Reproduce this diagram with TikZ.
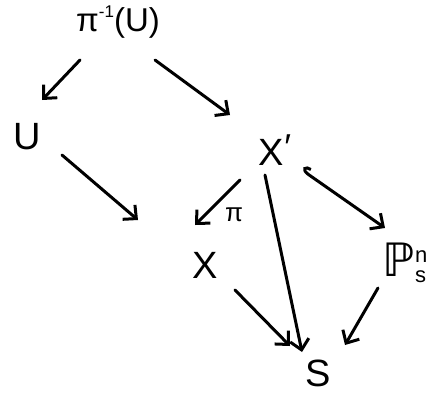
\documentclass[tikz,border=0pt]{standalone}
\usepackage{fontspec}
\setmainfont{Liberation Sans}
\newfontfamily\dvs{DejaVu Sans}
\usetikzlibrary{arrows.meta}
\begin{document}
\begin{tikzpicture}[x=1pt,y=-1pt,
  lbl/.style={inner sep=2pt,font=\fontsize{38}{42}\selectfont},
  arr/.style={line width=3pt,line cap=round,-{Straight Barb[length=10pt,width=19pt,line width=3pt]}},
  hookarr/.style={arr,{Hooks[right,length=7pt,width=14pt,line width=3pt]}-{Straight Barb[length=10pt,width=19pt,line width=3pt]}}]
\useasboundingbox (0,0) rectangle (435,394);
\node[lbl,font=\fontsize{33}{36}\selectfont] (pu) at (118,22) {π\raisebox{0.45em}{\fontsize{17}{17}\selectfont -1}(U)};
\node[lbl] (u) at (27,137) {U};
\node[lbl] (xp) at (275,150) {X\raisebox{0.15em}{\fontsize{36}{36}\selectfont ′}};
\node[lbl] (x) at (205,265) {X};
\node[lbl] (p) at (405,265) {{\dvs\fontsize{46}{46}\selectfont ℙ}\raisebox{0.05em}{\fontsize{22}{17}\selectfont\begin{tabular}[c]{@{}l@{}}n\\[3pt]s\end{tabular}}};
\node[lbl] (s) at (318,373) {S};
\coordinate (a1) at (80,60); \coordinate (a2) at (42,100);
\coordinate (b1) at (155,60); \coordinate (b2) at (230,115);
\coordinate (c1) at (62,155); \coordinate (c2) at (138,220);
\coordinate (d1) at (240,180); \coordinate (d2) at (195,225);
\coordinate (e1) at (265,175); \coordinate (e2) at (302,352);
\coordinate (f1) at (302,170); \coordinate (f2) at (385,228);
\coordinate (g1) at (235,290); \coordinate (g2) at (290,346);
\coordinate (h1) at (378,288); \coordinate (h2) at (345,345);
\draw[arr] (a1) -- (a2);
\draw[arr] (b1) -- (b2);
\draw[arr] (c1) -- (c2);
\draw[arr] (d1) -- (d2);
\node[lbl,font=\fontsize{26}{28}\selectfont] (pi) at (234,215) {π};
\draw[arr] (e1) -- (e2);
\draw[hookarr] (f1) -- (f2);
\draw[arr] (g1) -- (g2);
\draw[arr] (h1) -- (h2);
\end{tikzpicture}
\end{document}
